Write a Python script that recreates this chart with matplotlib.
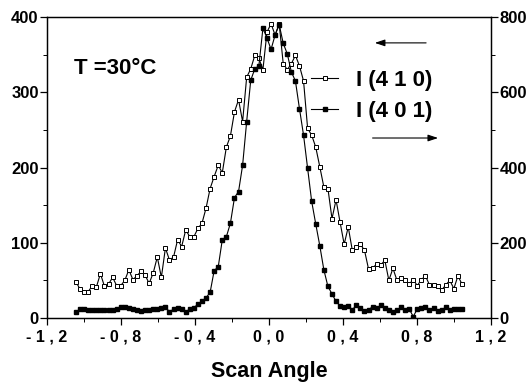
import matplotlib
matplotlib.use("Agg")
import matplotlib.pyplot as plt
import numpy as np
from matplotlib.ticker import MultipleLocator

plt.rcParams["font.family"] = ["Liberation Sans", "DejaVu Sans"]
plt.rcParams["font.weight"] = "bold"

# scan grid, first and last points
angle_first, angle_last, n_points = -1.043, 1.043, 96
scan_angle = np.linspace(angle_first, angle_last, n_points)

# I(4 1 0), left axis
i410 = [48, 38, 35, 35, 43, 41, 59, 42, 45, 54,
        43, 43, 50, 64, 51, 56, 62, 57, 46, 60,
        81, 54, 93, 77, 81, 104, 95, 117, 108, 108,
        119, 126, 146, 172, 188, 203, 193, 227, 242, 274,
        290, 261, 320, 331, 349, 345, 330, 380, 391, 376,
        391, 338, 330, 338, 349, 335, 315, 252, 243, 227,
        201, 174, 172, 132, 157, 127, 98, 121, 90, 95,
        98, 90, 65, 66, 72, 70, 77, 50, 66, 50,
        53, 50, 45, 51, 43, 51, 56, 44, 44, 42,
        37, 44, 50, 39, 56, 45]

# I(4 0 1), right axis
i401 = [16, 24, 24, 22, 22, 22, 22, 20, 22, 22,
        24, 28, 30, 26, 24, 22, 18, 20, 22, 24,
        24, 26, 30, 16, 24, 26, 24, 16, 24, 26,
        38, 44, 54, 68, 126, 136, 208, 216, 252,
        320, 336, 406, 522, 632, 662, 670, 770, 744, 714,
        752, 780, 730, 702, 654, 630, 556, 486, 398, 310,
        250, 192, 128, 84, 64, 44, 32, 28,
        32, 22, 34, 26, 18, 22, 30, 26, 34, 26,
        22, 16, 22, 28, 22, 24, 4, 24, 26, 28,
        22, 26, 18, 22, 28, 22, 24, 24, 24]

x_ticks = [-1.2, -0.8, -0.4, 0.0, 0.4, 0.8, 1.2]
x_tick_labels = ["- 1 , 2", "- 0 , 8", "- 0 , 4", "0 , 0", "0 , 4", "0 , 8", "1 , 2"]
left_ticks = [0, 100, 200, 300, 400]
right_ticks = [0, 200, 400, 600, 800]

fig = plt.figure(figsize=(5.28, 3.82), dpi=100)
ax = fig.add_axes([0.089, 0.1675, 0.841, 0.788])
ax2 = ax.twinx()

l1, = ax.plot(scan_angle, i410, color="black", lw=0.8, marker="s", ms=3.2,
              mfc="white", mec="black", mew=0.7, label="I (4 1 0)")
l2, = ax2.plot(scan_angle, i401, color="black", lw=0.8, marker="s", ms=3.2,
               mfc="black", mec="black", label="I (4 0 1)")

ax.set_xlim(-1.2, 1.2)
ax.set_ylim(0, 400)
ax2.set_ylim(0, 800)

ax.set_xticks(x_ticks)
ax.set_xticklabels(x_tick_labels, fontsize=11.5)
ax.xaxis.set_minor_locator(MultipleLocator(0.2))
ax.set_yticks(left_ticks)
ax.yaxis.set_minor_locator(MultipleLocator(50))
ax2.set_yticks(right_ticks)
ax2.yaxis.set_minor_locator(MultipleLocator(100))

for a in (ax, ax2):
    a.tick_params(which="major", length=5, width=0.9, direction="out")
    a.tick_params(which="minor", length=3, width=0.7, direction="out")
    a.tick_params(axis="y", labelsize=12)
    for s in a.spines.values():
        s.set_linewidth(0.9)
ax.tick_params(axis="x", pad=3)
ax.tick_params(axis="y", pad=1)
ax2.tick_params(axis="y", pad=1)

ax.set_xlabel("Scan Angle", fontsize=15.5, fontweight="bold", labelpad=12)

ax.text(0.061, 0.83, "T =30°C", transform=ax.transAxes, fontsize=16,
        fontweight="bold", va="center", ha="left")

ax2.legend(handles=[l1, l2], loc="upper left", bbox_to_anchor=(0.595, 0.825),
           frameon=False, fontsize=16, handlelength=1.2, handletextpad=0.8,
           labelspacing=0.45, borderpad=0, borderaxespad=0)

arrow = dict(arrowstyle="-|>,head_length=0.6,head_width=0.2", color="black", lw=0.8)
ax2.annotate("", xy=(0.732, 0.914), xytext=(0.86, 0.914),
             xycoords="axes fraction", arrowprops=arrow)
ax2.annotate("", xy=(0.887, 0.598), xytext=(0.727, 0.598),
             xycoords="axes fraction", arrowprops=arrow)

fig.savefig("out.png", dpi=100)
